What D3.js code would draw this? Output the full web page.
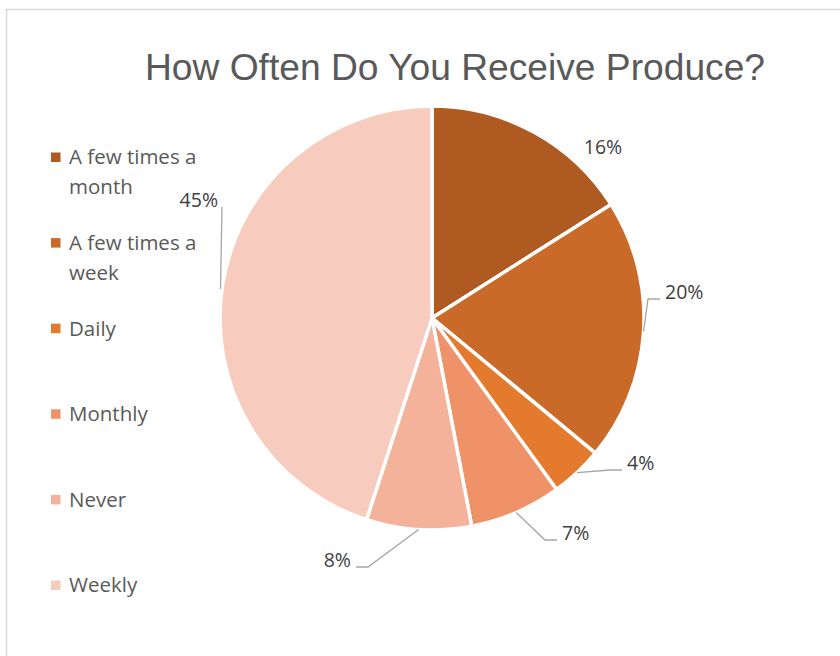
<!DOCTYPE html>
<html>
<head>
<meta charset="utf-8">
<script src="https://cdn.jsdelivr.net/npm/d3@7/dist/d3.min.js"></script>
<style>
  html, body { margin: 0; padding: 0; background: #fff; }
  svg { display: block; }
</style>
</head>
<body>
<svg id="chart" width="840" height="656"></svg>
<script>
// Survey answers: how often respondents receive produce
const categories = ["A few times a month", "A few times a week", "Daily", "Monthly", "Never", "Weekly"];
const legendLines = [["A few times a", "month"], ["A few times a", "week"], ["Daily"], ["Monthly"], ["Never"], ["Weekly"]];
const values = [16, 20, 4, 7, 8, 45];
const colors = ["#ae5a21", "#c96a28", "#e47a2e", "#f09268", "#f4b29b", "#f7cbbe"];
const title = "How Often Do You Receive Produce?";

// Label placement relative to the pie centre (anchor, offset) and leader style
const labelLayout = [
  { dx: 171, dy: -171, anchor: "middle", leader: false },
  { dx: 233, dy: -26, anchor: "start", leader: true },
  { dx: 195, dy: 145, anchor: "start", leader: true },
  { dx: 130, dy: 215, anchor: "start", leader: true },
  { dx: -81, dy: 242, anchor: "end", leader: true },
  { dx: -214, dy: -118, anchor: "end", leader: "vertical" }
];

const svg = d3.select("#chart");
const font = "'Open Sans', 'Noto Sans', sans-serif";

// Chart frame
svg.append("rect")
  .attr("x", 6.5).attr("y", 9.5)
  .attr("width", 900).attr("height", 700)
  .attr("fill", "#fff").attr("stroke", "#d9d9d9").attr("stroke-width", 1.5);

// Title
svg.append("text")
  .attr("x", 455).attr("y", 80)
  .attr("text-anchor", "middle")
  .attr("font-family", "'Liberation Sans', Arial, sans-serif")
  .attr("font-size", 37)
  .attr("fill", "#595959")
  .attr("textLength", 620)
  .attr("lengthAdjust", "spacingAndGlyphs")
  .text(title);

// Pie
const cx = 432, cy = 318, radius = 212;
const g = svg.append("g").attr("transform", `translate(${cx},${cy})`);

const pie = d3.pie().value(d => d).sort(null);
const arcs = pie(values);
const arc = d3.arc().innerRadius(0).outerRadius(radius);

g.selectAll("path.slice")
  .data(arcs)
  .join("path")
  .attr("class", "slice")
  .attr("d", arc)
  .attr("fill", (d, i) => colors[i])
  .attr("stroke", "#fff")
  .attr("stroke-width", 3.5)
  .attr("stroke-linejoin", "round");

// Point on the pie rim at a given angle (radians, clockwise from 12 o'clock)
const rim = a => [radius * Math.sin(a), -radius * Math.cos(a)];

// Leader lines
arcs.forEach((d, i) => {
  const L = labelLayout[i];
  if (!L.leader) return;
  const mid = (d.startAngle + d.endAngle) / 2;
  let pts;
  if (L.leader === "vertical") {
    // drops straight from the label corner onto the rim
    const x = L.dx + 4;
    const ys = -Math.sqrt(radius * radius - x * x);
    pts = [[x, L.dy + 7], [x - 1.5, ys]];
  } else {
    const [sx, sy] = rim(mid);
    const yl = L.dy + 7;
    const dir = L.anchor === "start" ? -1 : 1;
    const x0 = L.dx + dir * 5;
    const x1 = L.dx + dir * 17;
    pts = [[sx, sy], [x1, yl], [x0, yl]];
  }
  g.append("path")
    .attr("d", d3.line()(pts))
    .attr("fill", "none")
    .attr("stroke", "#a6a6a6")
    .attr("stroke-width", 1.3);
});

// Percentage labels
const total = d3.sum(values);
g.selectAll("text.pct")
  .data(arcs)
  .join("text")
  .attr("class", "pct")
  .attr("x", (d, i) => labelLayout[i].dx)
  .attr("y", (d, i) => labelLayout[i].dy)
  .attr("dy", "0.36em")
  .attr("text-anchor", (d, i) => labelLayout[i].anchor)
  .attr("font-family", font)
  .attr("font-size", 19.5)
  .attr("fill", "#404040")
  .text(d => Math.round(d.value / total * 100) + "%");

// Legend
const legendY = d3.scalePoint().domain(categories).range([157, 585]);
const legend = svg.append("g");
categories.forEach((c, i) => {
  const y = legendY(c);
  legend.append("rect")
    .attr("x", 51).attr("y", y - 4.5)
    .attr("width", 9.5).attr("height", 9.5)
    .attr("fill", colors[i]);
  const t = legend.append("text")
    .attr("font-family", font)
    .attr("font-size", 20.5)
    .attr("fill", "#595959");
  legendLines[i].forEach((line, j) => {
    t.append("tspan")
      .attr("x", 69)
      .attr("y", y + j * 30)
      .attr("dy", "0.36em")
      .text(line);
  });
});
</script>
</body>
</html>
